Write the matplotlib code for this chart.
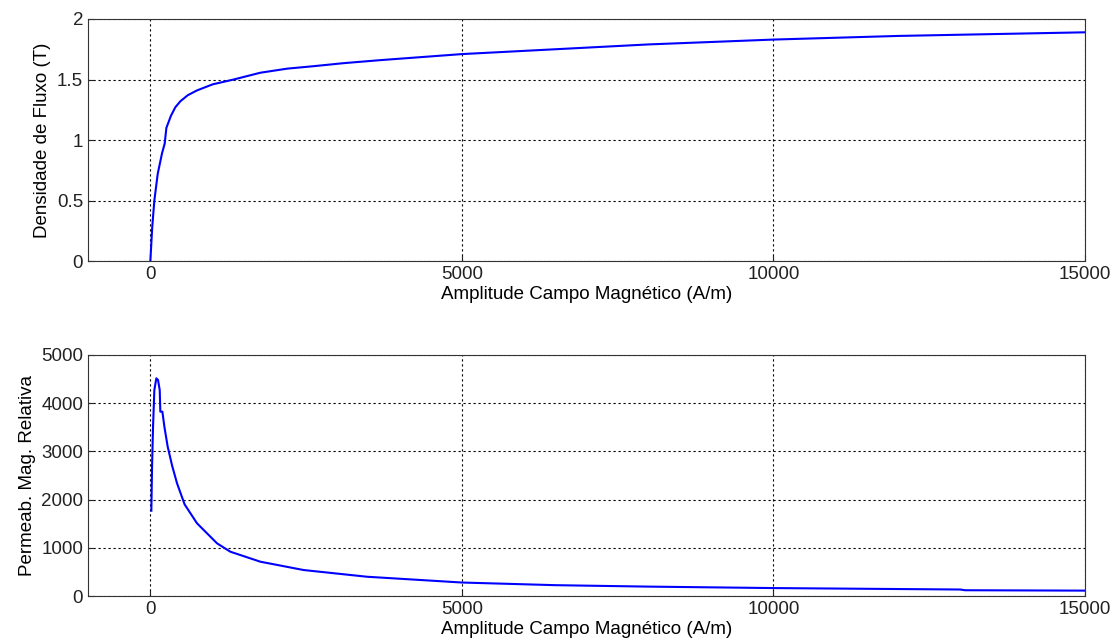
import matplotlib
matplotlib.use("Agg")
import matplotlib.pyplot as plt

plt.rcParams['font.family'] = ['Liberation Sans', 'DejaVu Sans']

# curva B-H
H_bh = [0, 30, 64, 118, 187, 230, 257, 330, 400, 481, 600, 749, 1000, 1337,
        1765, 2200, 2620, 3100, 3690, 5000, 6500, 8000, 10000, 12000, 13500, 15000]
B_bh = [0.0, 0.28, 0.50, 0.72, 0.89, 0.97, 1.10, 1.20, 1.27, 1.32, 1.37, 1.41,
        1.46, 1.50, 1.556, 1.59, 1.61, 1.635, 1.66, 1.71, 1.75, 1.79, 1.83, 1.86, 1.875, 1.89]

# permeabilidade relativa
H_mu = [16, 27, 43, 64, 96, 123, 150, 160, 193, 225, 278, 350, 428, 550, 749,
        1070, 1284, 1765, 2460, 3476, 5000, 6500, 8000, 10000, 13000, 13075, 15000]
mu_r = [1770, 2683, 3513, 4274, 4516, 4481, 4274, 3824, 3824, 3513, 3098, 2700,
        2338, 1900, 1508, 1093, 919, 712, 539, 400, 280, 225, 195, 165, 135, 120, 112]

xlabel = "Amplitude Campo Magnético (A/m)"
xticks = [0, 5000, 10000, 15000]

fig = plt.figure(figsize=(11.16, 6.44), dpi=100)
ax1 = fig.add_axes([0.0789, 0.5947, 0.8933, 0.3758])
ax2 = fig.add_axes([0.0789, 0.0745, 0.8933, 0.3743])

for ax in (ax1, ax2):
    ax.set_xlim(-1000, 15000)
    ax.set_xticks(xticks)
    ax.grid(True, color='black', linestyle=(0, (2, 2.5)), linewidth=0.8)
    ax.tick_params(direction='in', length=4, labelsize=13.5, colors='#222222')
    for s in ax.spines.values():
        s.set_color('#333333')
    ax.set_xlabel(xlabel, fontsize=13.5, labelpad=2)

ax1.plot(H_bh, B_bh, color='blue', linewidth=1.5)
ax1.set_ylim(0, 2)
ax1.set_yticks([0, 0.5, 1, 1.5, 2])
ax1.set_yticklabels(['0', '0.5', '1', '1.5', '2'])
ax1.set_ylabel("Densidade de Fluxo (T)", fontsize=13.5)

ax2.plot(H_mu, mu_r, color='blue', linewidth=1.5)
ax2.set_ylim(0, 5000)
ax2.set_yticks([0, 1000, 2000, 3000, 4000, 5000])
ax2.set_ylabel("Permeab. Mag. Relativa", fontsize=13.5)

fig.savefig("out.png", dpi=100)
